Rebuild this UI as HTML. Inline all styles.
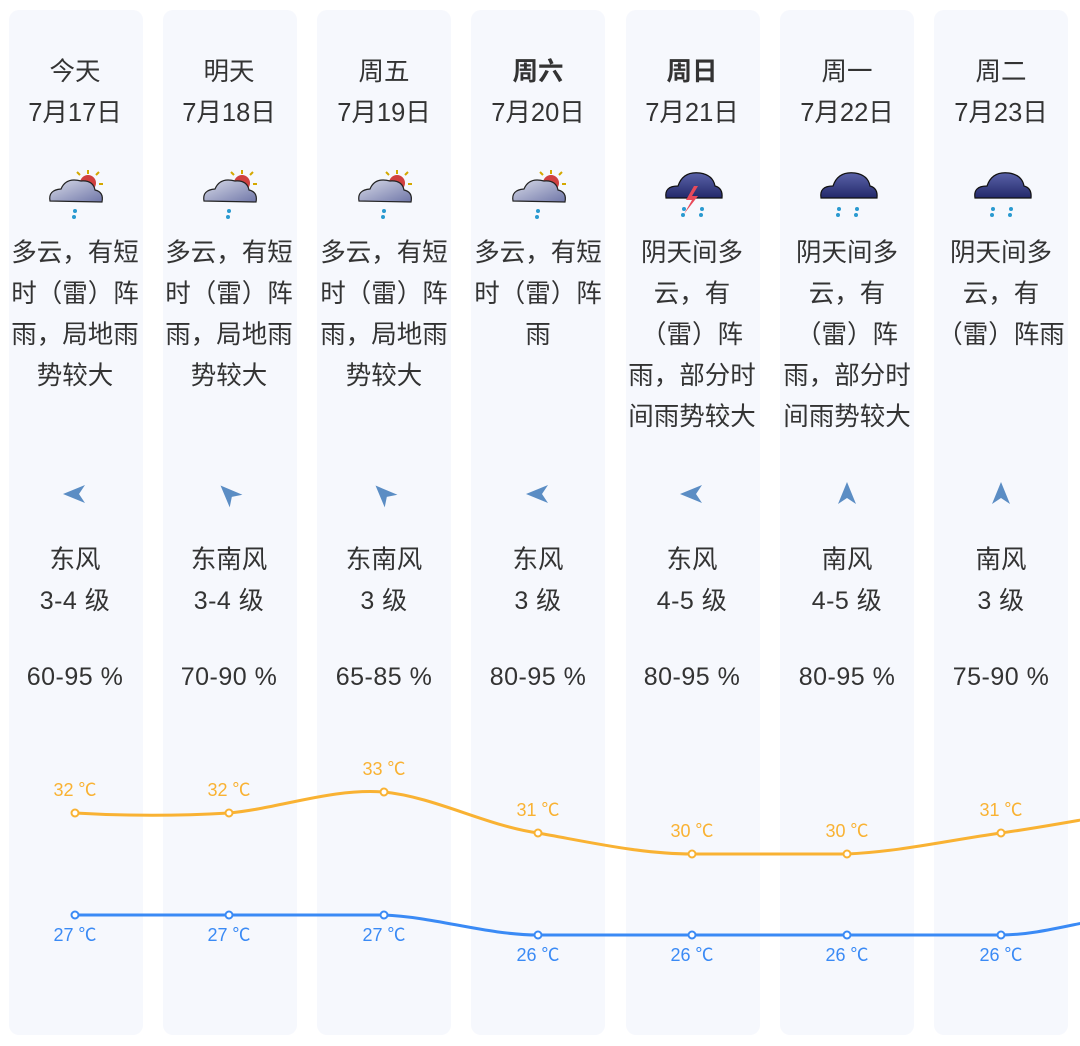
<!DOCTYPE html>
<html><head><meta charset="utf-8"><style>
body{margin:0;width:1080px;height:1046px;background:#fff;position:relative;overflow:hidden;font-family:"Liberation Sans","Noto Sans CJK SC",sans-serif;color:#333}
.col{position:absolute;top:10px;width:134px;height:1025px;background:#f6f8fd;border-radius:10px}
.t{position:absolute;width:154px;text-align:center;font-size:25.5px;line-height:41px;white-space:nowrap}
.n{font-size:25px;letter-spacing:0.5px}
svg{position:absolute;left:0;top:0}
</style></head><body>
<div class="col" style="left:9px"></div><div class="col" style="left:163px"></div><div class="col" style="left:317px"></div><div class="col" style="left:471px"></div><div class="col" style="left:626px"></div><div class="col" style="left:780px"></div><div class="col" style="left:934px"></div>

<div class="t" style="left:-2px;top:52px">今天<br>7月17日</div>
<div class="t" style="left:152px;top:52px">明天<br>7月18日</div>
<div class="t" style="left:307px;top:52px">周五<br>7月19日</div>
<div class="t" style="left:461px;top:52px"><b>周六</b><br>7月20日</div>
<div class="t" style="left:615px;top:52px"><b>周日</b><br>7月21日</div>
<div class="t" style="left:770px;top:52px">周一<br>7月22日</div>
<div class="t" style="left:924px;top:52px">周二<br>7月23日</div>

<div class="t" style="left:-2px;top:233px">多云，有短<br>时（雷）阵<br>雨，局地雨<br>势较大</div>
<div class="t" style="left:152px;top:233px">多云，有短<br>时（雷）阵<br>雨，局地雨<br>势较大</div>
<div class="t" style="left:307px;top:233px">多云，有短<br>时（雷）阵<br>雨，局地雨<br>势较大</div>
<div class="t" style="left:461px;top:233px">多云，有短<br>时（雷）阵<br>雨</div>
<div class="t" style="left:615px;top:233px">阴天间多<br>云，有<br>（雷）阵<br>雨，部分时<br>间雨势较大</div>
<div class="t" style="left:770px;top:233px">阴天间多<br>云，有<br>（雷）阵<br>雨，部分时<br>间雨势较大</div>
<div class="t" style="left:924px;top:233px">阴天间多<br>云，有<br>（雷）阵雨</div>

<div class="t" style="left:-2px;top:540px">东风<br><span class="n">3-4 级</span></div>
<div class="t" style="left:152px;top:540px">东南风<br><span class="n">3-4 级</span></div>
<div class="t" style="left:307px;top:540px">东南风<br><span class="n">3 级</span></div>
<div class="t" style="left:461px;top:540px">东风<br><span class="n">3 级</span></div>
<div class="t" style="left:615px;top:540px">东风<br><span class="n">4-5 级</span></div>
<div class="t" style="left:770px;top:540px">南风<br><span class="n">4-5 级</span></div>
<div class="t" style="left:924px;top:540px">南风<br><span class="n">3 级</span></div>

<div class="t n" style="left:-2px;top:657px">60-95 %</div>
<div class="t n" style="left:152px;top:657px">70-90 %</div>
<div class="t n" style="left:307px;top:657px">65-85 %</div>
<div class="t n" style="left:461px;top:657px">80-95 %</div>
<div class="t n" style="left:615px;top:657px">80-95 %</div>
<div class="t n" style="left:770px;top:657px">80-95 %</div>
<div class="t n" style="left:924px;top:657px">75-90 %</div>

<svg width="1080" height="1046" xmlns="http://www.w3.org/2000/svg">
<defs>
<linearGradient id="cl" x1="0" y1="0" x2="1" y2="1"><stop offset="0" stop-color="#d8dbe8"/><stop offset="1" stop-color="#6f76a8"/></linearGradient>
<linearGradient id="cd" x1="0" y1="0" x2="0" y2="1"><stop offset="0" stop-color="#5a62a8"/><stop offset="1" stop-color="#23296a"/></linearGradient>
<g id="sun"><circle cx="88" cy="183" r="8" fill="#d04040"/><g stroke="#d4a800" stroke-width="2"><line x1="88" y1="170" x2="88" y2="174"/><line x1="96" y1="175" x2="99" y2="172"/><line x1="99" y1="184" x2="103" y2="184"/><line x1="80" y1="175" x2="77" y2="172"/></g>
<path d="M50 201 Q48 190 61 189 Q66 177 81 181 Q93 180 95 190 Q104 192 102 202 Z" fill="url(#cl)" stroke="#222" stroke-width="1.2"/>
<circle cx="75" cy="211" r="2" fill="#2a9ad0"/><circle cx="74" cy="217" r="2" fill="#2a9ad0"/></g>
<g id="rain"><path d="M666 198 Q664 186 678 186 Q683 171 700 173 Q713 175 715 186 Q723 188 722 198 Z" fill="url(#cd)" stroke="#111" stroke-width="1.2"/>
<circle cx="684" cy="209" r="2" fill="#2a9ad0"/><circle cx="683" cy="215" r="2" fill="#2a9ad0"/><circle cx="702" cy="209" r="2" fill="#2a9ad0"/><circle cx="701" cy="215" r="2" fill="#2a9ad0"/></g>
<polygon id="ar" points="0,-12 9,10 0,4 -9,10" fill="#5b8dc4"/>
</defs>
<use href="#sun"/><use href="#sun" x="154"/><use href="#sun" x="309"/><use href="#sun" x="463"/>
<use href="#rain"/><polygon points="694,186 686,200 692,200 684,214 698,196 692,196 698,186" fill="#e84a5a"/>
<use href="#rain" x="155"/><use href="#rain" x="309"/>
<use href="#ar" transform="translate(75,494) rotate(-90)"/>
<use href="#ar" transform="translate(229,494) rotate(-45)"/>
<use href="#ar" transform="translate(384,494) rotate(-45)"/>
<use href="#ar" transform="translate(538,494) rotate(-90)"/>
<use href="#ar" transform="translate(692,494) rotate(-90)"/>
<use href="#ar" transform="translate(847,494)"/>
<use href="#ar" transform="translate(1001,494)"/>
<path d="M75 813 C126 816 178 816 229 813 C281 808 332 788 384 792 C435 797 487 826 538 833 C589 842 641 854 692 854 C744 854 795 854 847 854 C898 852 950 840 1001 833 C1052 826 1104 815 1155 808" fill="none" stroke="#f9b233" stroke-width="3"/>
<path d="M75 915 C126 915 178 915 229 915 C281 915 332 915 384 915 C435 917 487 935 538 935 C589 935 641 935 692 935 C744 935 795 935 847 935 C898 935 950 935 1001 935 C1052 935 1104 912 1155 915" fill="none" stroke="#3a8af5" stroke-width="3"/>
<g fill="#fff" stroke="#f9b233" stroke-width="2"><circle cx="75" cy="813" r="3.5"/><circle cx="229" cy="813" r="3.5"/><circle cx="384" cy="792" r="3.5"/><circle cx="538" cy="833" r="3.5"/><circle cx="692" cy="854" r="3.5"/><circle cx="847" cy="854" r="3.5"/><circle cx="1001" cy="833" r="3.5"/></g>
<g fill="#fff" stroke="#3a8af5" stroke-width="2"><circle cx="75" cy="915" r="3.5"/><circle cx="229" cy="915" r="3.5"/><circle cx="384" cy="915" r="3.5"/><circle cx="538" cy="935" r="3.5"/><circle cx="692" cy="935" r="3.5"/><circle cx="847" cy="935" r="3.5"/><circle cx="1001" cy="935" r="3.5"/></g>
<g font-family="Liberation Sans, Noto Sans CJK SC, sans-serif" font-size="18" text-anchor="middle" fill="#f9b233">
<text x="75" y="796">32 ℃</text><text x="229" y="796">32 ℃</text><text x="384" y="775">33 ℃</text><text x="538" y="816">31 ℃</text><text x="692" y="837">30 ℃</text><text x="847" y="837">30 ℃</text><text x="1001" y="816">31 ℃</text></g>
<g font-family="Liberation Sans, Noto Sans CJK SC, sans-serif" font-size="18" text-anchor="middle" fill="#3a8af5">
<text x="75" y="941">27 ℃</text><text x="229" y="941">27 ℃</text><text x="384" y="941">27 ℃</text><text x="538" y="961">26 ℃</text><text x="692" y="961">26 ℃</text><text x="847" y="961">26 ℃</text><text x="1001" y="961">26 ℃</text></g>
</svg>
</body></html>
